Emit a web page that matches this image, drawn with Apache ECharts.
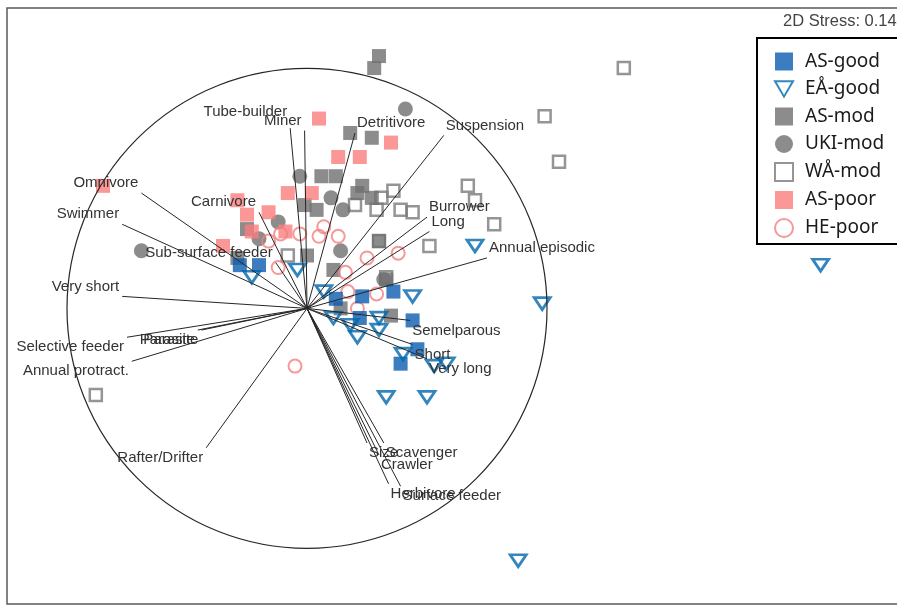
<!DOCTYPE html>
<html>
<head>
<meta charset="utf-8">
<script src="https://cdn.jsdelivr.net/npm/echarts@6/dist/echarts.min.js"></script>
<style>
  html, body { margin: 0; padding: 0; background: #fff; }
  #chart { width: 897px; height: 606px; }
</style>
</head>
<body>
<div id="chart"></div>
<script>
// nMDS site scores (MDS1, MDS2) per group
const groupNames = ['AS-good', 'EÅ-good', 'AS-mod', 'UKI-mod', 'WÅ-mod', 'AS-poor', 'HE-poor'];

const asGood = [
  [-0.28, 0.18], [-0.20, 0.18], [0.23, 0.05], [0.36, 0.07], [0.22, -0.04],
  [0.44, -0.05], [0.46, -0.17], [0.39, -0.23], [0.12, 0.04]
];
const eaGood = [
  [-0.23, 0.13], [-0.04, 0.16], [0.70, 0.26], [0.98, 0.02], [2.14, 0.18],
  [0.88, -1.05], [0.33, -0.37], [0.50, -0.37], [0.44, 0.05], [0.07, 0.07],
  [0.11, -0.04], [0.18, -0.07], [0.21, -0.12], [0.30, -0.09], [0.30, -0.04],
  [0.40, -0.19], [0.53, -0.24], [0.58, -0.23]
];
const asMod = [
  [0.30, 1.05], [0.28, 1.00], [0.18, 0.73], [0.27, 0.71], [0.06, 0.55],
  [0.12, 0.55], [0.23, 0.51], [0.21, 0.48], [0.27, 0.46], [-0.01, 0.43],
  [0.04, 0.41], [-0.25, 0.33], [-0.29, 0.21], [0.00, 0.22], [0.30, 0.28],
  [0.11, 0.16], [0.33, 0.12], [0.35, -0.03], [0.14, 0.00]
];
const ukiMod = [
  [0.41, 0.83], [-0.03, 0.55], [0.10, 0.46], [0.15, 0.41], [-0.12, 0.36],
  [-0.20, 0.29], [0.14, 0.24], [-0.69, 0.24], [0.32, 0.12]
];
const waMod = [
  [1.32, 1.00], [0.99, 0.80], [1.05, 0.61], [0.67, 0.51], [0.70, 0.45],
  [0.78, 0.35], [0.51, 0.26], [0.36, 0.49], [0.31, 0.46], [0.20, 0.43],
  [0.29, 0.41], [0.39, 0.41], [0.44, 0.40], [0.30, 0.28], [-0.08, 0.22],
  [0.33, 0.13], [-0.88, -0.36]
];
const asPoor = [
  [-0.85, 0.51], [0.05, 0.79], [0.35, 0.69], [0.13, 0.63], [0.22, 0.63],
  [-0.29, 0.45], [-0.25, 0.39], [-0.16, 0.40], [-0.08, 0.48], [0.02, 0.48],
  [-0.35, 0.26], [-0.23, 0.32], [-0.09, 0.32]
];
const hePoor = [
  [-0.16, 0.28], [-0.11, 0.31], [-0.03, 0.31], [0.05, 0.30], [0.07, 0.34],
  [0.13, 0.30], [-0.12, 0.17], [0.16, 0.15], [0.25, 0.21], [0.38, 0.23],
  [0.29, 0.06], [0.17, 0.07], [0.21, 0.00], [-0.05, -0.24]
];

// Trait vectors (correlations with the ordination axes)
const traitNames = [
  'Omnivore', 'Swimmer', 'Sub-surface feeder', 'Carnivore', 'Tube-builder', 'Miner',
  'Detritivore', 'Suspension', 'Burrower', 'Long', 'Annual episodic', 'Semelparous',
  'Short', 'Very long', 'Surface feeder', 'Herbivore', 'Crawler', 'Scavenger', 'Size',
  'Rafter/Drifter', 'Annual protract.', 'Selective feeder', 'Parasite', 'Parasite', 'Very short'
];
const traitX = [
  -0.69, -0.77, -0.13, -0.20, -0.07, -0.01,
  0.20, 0.57, 0.50, 0.51, 0.75, 0.43,
  0.44, 0.50, 0.39, 0.34, 0.30, 0.32, 0.25,
  -0.42, -0.73, -0.75, -0.44, -0.455, -0.77
];
const traitY = [
  0.48, 0.35, 0.19, 0.40, 0.75, 0.74,
  0.73, 0.72, 0.38, 0.32, 0.21, -0.05,
  -0.15, -0.21, -0.74, -0.73, -0.61, -0.56, -0.56,
  -0.58, -0.22, -0.12, -0.09, -0.09, 0.05
];
const circleRadius = 1;
const stressText = '2D Stress: 0.14';

// label nudges (px) for a few crowded vector labels
const labelNudge = { 'Tube-builder': [0, -6] };

const TRI_DOWN = 'path://M0,0L20,0L10,17Z';
const labelFont = '15px "Liberation Sans", Arial, sans-serif';

// frame edges (px): left, top, bottom; the right edge runs off the page
const FRAME = { left: 7, top: 8, bottom: 604 };

function renderTrait(params, api) {
  const i = params.dataIndex;
  const x = api.value(0), y = api.value(1);
  const o = api.coord([0, 0]);
  const e = api.coord([x, y]);
  const right = x >= 0;
  const n = labelNudge[traitNames[i]] || [0, 0];
  return {
    type: 'group',
    children: [
      { type: 'line', shape: { x1: o[0], y1: o[1], x2: e[0], y2: e[1] },
        style: { stroke: '#262626', lineWidth: 1 } },
      { type: 'text',
        x: e[0] + (right ? 2 : -3) + n[0],
        y: e[1] + (y >= 0 ? -10 : 10) + n[1],
        style: { text: traitNames[i], align: right ? 'left' : 'right', verticalAlign: 'middle',
                 font: labelFont, fill: '#333' } }
    ]
  };
}

function renderCircle(params, api) {
  const c = api.coord([api.value(0), api.value(1)]);
  const r = api.size([circleRadius, 0])[0];
  return { type: 'circle', shape: { cx: c[0], cy: c[1], r: r },
           style: { fill: 'none', stroke: '#262626', lineWidth: 1.2 } };
}

const chart = echarts.init(document.getElementById('chart'), null, { renderer: 'canvas' });

const hidden = { show: false };
const axisBase = { type: 'value', axisLine: hidden, axisTick: hidden, axisLabel: hidden, splitLine: hidden };

function scatter(name, data, symbol, size, itemStyle) {
  return {
    type: 'scatter', name: name, data: data, symbol: symbol, symbolSize: size,
    symbolKeepAspect: true, itemStyle: itemStyle, silent: true, z: 2,
    emphasis: { disabled: true }
  };
}

chart.setOption({
  animation: false,
  backgroundColor: '#fff',
  grid: { left: 7, top: 8, width: 890, height: 596, show: false },
  xAxis: Object.assign({ min: -1.25, max: 2.4583 }, axisBase),
  yAxis: Object.assign({ min: -1.23, max: 1.25 }, axisBase),
  legend: {
    data: groupNames,
    orient: 'vertical',
    left: 757, top: 38,
    padding: [14, 60, 6, 17],
    itemWidth: 18, itemHeight: 18, itemGap: 8.5,
    borderColor: '#000', borderWidth: 2,
    backgroundColor: '#fff',
    selectedMode: false,
    textStyle: { fontFamily: '"Noto Sans", "Open Sans", sans-serif', fontSize: 19,
                 color: '#1a1a1a', lineHeight: 18, padding: [0, 0, 0, 7] }
  },
  graphic: [
    {
      type: 'polyline', silent: true, z: 0,
      shape: { points: [[900, FRAME.top], [FRAME.left, FRAME.top], [FRAME.left, FRAME.bottom], [900, FRAME.bottom]] },
      style: { fill: 'none', stroke: '#5a5a5a', lineWidth: 1.5 }
    },
    {
      type: 'text', left: 783, top: 13,
      style: { text: stressText, font: '16.5px "Liberation Sans", Arial, sans-serif', fill: '#444' }
    }
  ],
  series: [
    scatter('WÅ-mod', waMod, 'rect', 12, { color: 'rgba(255,255,255,0)', borderColor: '#7a7a7a', borderWidth: 2.5 }),
    scatter('AS-mod', asMod, 'rect', 14, { color: '#6f6f6f' }),
    scatter('UKI-mod', ukiMod, 'circle', 15, { color: '#6f6f6f' }),
    scatter('AS-poor', asPoor, 'rect', 14, { color: '#fb7d7d' }),
    scatter('HE-poor', hePoor, 'circle', 13, { color: 'rgba(255,255,255,0)', borderColor: '#f27f7f', borderWidth: 2 }),
    scatter('AS-good', asGood, 'rect', 14, { color: '#0b5cb0' }),
    scatter('EÅ-good', eaGood, TRI_DOWN, [16, 14], { color: 'rgba(255,255,255,0)', borderColor: '#0068ad', borderWidth: 2.8 }),
    {
      type: 'custom', name: 'circle', silent: true, z: 3,
      data: [[0, 0]], renderItem: renderCircle
    },
    {
      type: 'custom', name: 'traits', silent: true, z: 4,
      data: traitX.map((x, i) => [x, traitY[i]]), renderItem: renderTrait
    }
  ]
});
</script>
</body>
</html>
